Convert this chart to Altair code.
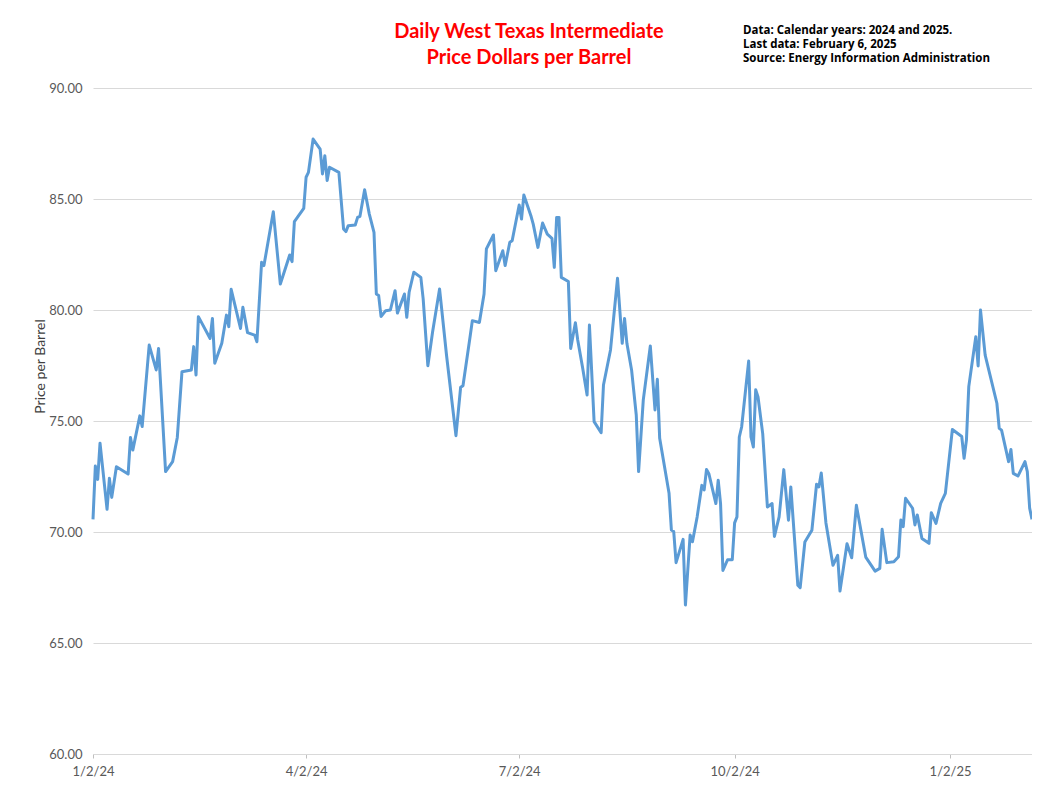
import altair as alt
import pandas as pd

# ---- data ----
dates = [
    "2024-01-02", "2024-01-03", "2024-01-04", "2024-01-05", "2024-01-08", "2024-01-09", "2024-01-10",
    "2024-01-12", "2024-01-17", "2024-01-18", "2024-01-19", "2024-01-22", "2024-01-23", "2024-01-26",
    "2024-01-29", "2024-01-30", "2024-02-02", "2024-02-05", "2024-02-07", "2024-02-09", "2024-02-13",
    "2024-02-14", "2024-02-15", "2024-02-16", "2024-02-21", "2024-02-22", "2024-02-23", "2024-02-26",
    "2024-02-28", "2024-02-29", "2024-03-01", "2024-03-05", "2024-03-06", "2024-03-08", "2024-03-11",
    "2024-03-12", "2024-03-14", "2024-03-15", "2024-03-19", "2024-03-22", "2024-03-26", "2024-03-27",
    "2024-03-28", "2024-04-01", "2024-04-02", "2024-04-03", "2024-04-05", "2024-04-08", "2024-04-09",
    "2024-04-10", "2024-04-11", "2024-04-12", "2024-04-16", "2024-04-18", "2024-04-19", "2024-04-20",
    "2024-04-23", "2024-04-24", "2024-04-25", "2024-04-27", "2024-04-29", "2024-05-01", "2024-05-02",
    "2024-05-03", "2024-05-04", "2024-05-06", "2024-05-08", "2024-05-10", "2024-05-11", "2024-05-14",
    "2024-05-15", "2024-05-16", "2024-05-18", "2024-05-21", "2024-05-22", "2024-05-24", "2024-05-26",
    "2024-05-29", "2024-06-01", "2024-06-05", "2024-06-07", "2024-06-08", "2024-06-11", "2024-06-12",
    "2024-06-15", "2024-06-17", "2024-06-18", "2024-06-21", "2024-06-22", "2024-06-25", "2024-06-26",
    "2024-06-28", "2024-06-29", "2024-07-02", "2024-07-03", "2024-07-04", "2024-07-07", "2024-07-08",
    "2024-07-10", "2024-07-12", "2024-07-14", "2024-07-16", "2024-07-17", "2024-07-18", "2024-07-19",
    "2024-07-20", "2024-07-23", "2024-07-24", "2024-07-26", "2024-07-27", "2024-07-29", "2024-07-31",
    "2024-08-01", "2024-08-03", "2024-08-06", "2024-08-07", "2024-08-10", "2024-08-13", "2024-08-15",
    "2024-08-16", "2024-08-17", "2024-08-19", "2024-08-21", "2024-08-22", "2024-08-24", "2024-08-27",
    "2024-08-29", "2024-08-30", "2024-08-31", "2024-09-04", "2024-09-05", "2024-09-06", "2024-09-07",
    "2024-09-10", "2024-09-11", "2024-09-13", "2024-09-14", "2024-09-16", "2024-09-18", "2024-09-19",
    "2024-09-20", "2024-09-21", "2024-09-24", "2024-09-25", "2024-09-26", "2024-09-27", "2024-09-29",
    "2024-10-01", "2024-10-02", "2024-10-03", "2024-10-04", "2024-10-05", "2024-10-08", "2024-10-09",
    "2024-10-10", "2024-10-11", "2024-10-12", "2024-10-14", "2024-10-16", "2024-10-18", "2024-10-19",
    "2024-10-21", "2024-10-23", "2024-10-25", "2024-10-26", "2024-10-29", "2024-10-30", "2024-11-01",
    "2024-11-04", "2024-11-06", "2024-11-07", "2024-11-08", "2024-11-10", "2024-11-13", "2024-11-15",
    "2024-11-16", "2024-11-19", "2024-11-21", "2024-11-23", "2024-11-27", "2024-11-28", "2024-12-01",
    "2024-12-03", "2024-12-04", "2024-12-06", "2024-12-09", "2024-12-11", "2024-12-12", "2024-12-13",
    "2024-12-14", "2024-12-17", "2024-12-18", "2024-12-19", "2024-12-21", "2024-12-24", "2024-12-25",
    "2024-12-27", "2024-12-29", "2024-12-31", "2025-01-03", "2025-01-07", "2025-01-08", "2025-01-09",
    "2025-01-10", "2025-01-13", "2025-01-14", "2025-01-15", "2025-01-17", "2025-01-22", "2025-01-23",
    "2025-01-24", "2025-01-27", "2025-01-28", "2025-01-29", "2025-01-31", "2025-02-03", "2025-02-04",
    "2025-02-05", "2025-02-06",
]

prices = [
    70.57, 72.97, 72.37, 74.00, 71.02, 72.42, 71.56,
    72.94, 72.61, 74.26, 73.69, 75.23, 74.75, 78.42,
    77.30, 78.27, 72.72, 73.17, 74.26, 77.22, 77.30,
    78.35, 77.07, 79.70, 78.72, 79.62, 77.60, 78.50,
    79.77, 79.25, 80.93, 79.17, 80.12, 78.98, 78.87,
    78.57, 82.15, 82.00, 84.43, 81.17, 82.48, 82.18,
    83.98, 84.58, 85.98, 86.20, 87.70, 87.25, 86.13,
    86.95, 85.83, 86.43, 86.20, 83.65, 83.53, 83.80,
    83.83, 84.17, 84.22, 85.42, 84.32, 83.50, 80.72,
    80.65, 79.71, 79.97, 80.00, 80.87, 79.86, 80.72,
    79.67, 80.80, 81.70, 81.47, 80.50, 77.49, 79.00,
    80.95, 77.94, 74.34, 76.52, 76.59, 78.77, 79.52,
    79.44, 80.72, 82.75, 83.38, 81.77, 82.67, 82.00,
    83.05, 83.12, 84.73, 84.10, 85.18, 84.25, 83.87,
    82.82, 83.92, 83.42, 83.23, 81.92, 84.17, 84.17,
    81.47, 81.28, 78.27, 79.43, 78.65, 77.45, 76.17,
    79.32, 74.97, 74.47, 76.62, 78.20, 81.43, 78.50,
    79.62, 78.50, 77.30, 75.27, 72.72, 75.95, 78.38,
    75.50, 76.88, 74.22, 71.74, 70.09, 70.02, 68.62,
    69.67, 66.71, 69.86, 69.56, 70.68, 72.10, 71.90,
    72.82, 72.63, 71.28, 72.33, 71.28, 68.27, 68.75,
    68.75, 70.41, 70.68, 74.28, 74.73, 77.70, 74.28,
    73.83, 76.41, 76.08, 74.43, 71.13, 71.28, 69.80,
    70.68, 72.81, 70.53, 72.03, 67.60, 67.49, 69.55,
    70.08, 72.15, 72.03, 72.66, 70.41, 68.50, 68.95,
    67.34, 69.47, 68.84, 71.20, 68.87, 68.71, 68.24,
    68.36, 70.12, 68.62, 68.66, 68.89, 70.54, 70.24,
    71.52, 71.07, 70.32, 70.77, 69.71, 69.49, 70.87,
    70.39, 71.29, 71.74, 74.62, 74.30, 73.32, 74.14,
    76.55, 78.80, 77.48, 80.00, 77.97, 75.80, 74.67,
    74.59, 73.17, 73.72, 72.64, 72.52, 73.17, 72.72,
    71.07, 70.57,
]

x_domain = ["2024-01-02", "2025-02-06"]
x_tick_dates = ["2024-01-02", "2024-04-02", "2024-07-02", "2024-10-02", "2025-01-02"]
y_ticks = [60, 65, 70, 75, 80, 85, 90]

title_lines = ["Daily West Texas Intermediate", "Price Dollars per Barrel"]
note_lines = [
    "Data: Calendar years: 2024 and 2025.",
    "Last data: February 6, 2025",
    "Source: Energy Information Administration",
]
y_title = "Price per Barrel"

# ---- build chart ----
df = pd.DataFrame({"date": pd.to_datetime(dates), "price": prices})


def to_dt(s):
    t = pd.Timestamp(s)
    return alt.DateTime(year=t.year, month=t.month, date=t.day)


FONT = "Lato"

line = alt.Chart(df).mark_line(color="#5B9BD5", strokeWidth=3, strokeJoin="round").encode(
    x=alt.X(
        "date:T",
        scale=alt.Scale(domain=[to_dt(d) for d in x_domain], nice=False),
        axis=alt.Axis(
            values=[to_dt(d) for d in x_tick_dates],
            format="%-m/%-d/%y",
            title=None,
            grid=False,
            domainColor="#d9d9d9",
            tickColor="#bfbfbf",
            tickSize=4,
            labelPadding=7,
            labelColor="#595959",
            labelFont=FONT,
            labelFontSize=13,
            labelOverlap=False,
            labelFlush=False,
        ),
    ),
    y=alt.Y(
        "price:Q",
        scale=alt.Scale(domain=[60, 90], nice=False, zero=False),
        axis=alt.Axis(
            values=y_ticks,
            format=".2f",
            title=y_title,
            titleFont=FONT,
            titleFontSize=14,
            titleFontWeight="normal",
            titleColor="#404040",
            titleX=-53,
            titleY=278,
            titleAlign="center",
            titleBaseline="middle",
            domain=False,
            ticks=False,
            labelPadding=11,
            labelColor="#595959",
            labelFont=FONT,
            labelFontSize=13,
            gridColor="#d9d9d9",
            gridWidth=1,
        ),
    ),
)

title_df = pd.DataFrame({"t": ["\n".join(title_lines)]})
title_text = alt.Chart(title_df).mark_text(
    font=FONT, fontSize=20, fontWeight="bold", color="#FF0000",
    align="center", baseline="middle", lineBreak="\n", lineHeight=26,
).encode(x=alt.value(436), y=alt.value(-56), text="t:N")

note_df = pd.DataFrame({"t": ["\n".join(note_lines)]})
note_text = alt.Chart(note_df).mark_text(
    font="Open Sans", fontSize=11.5, fontWeight="bold", color="#000000",
    align="left", baseline="middle", lineBreak="\n", lineHeight=14,
).encode(x=alt.value(650), y=alt.value(-57), text="t:N")

chart = alt.layer(line, title_text, note_text).properties(
    width=939,
    height=666,
    autosize=alt.AutoSizeParams(type="none"),
    padding={"left": 85, "top": 80, "right": 0, "bottom": 24},
    background="white",
).configure_view(stroke=None)

chart.save("out.html", embed_options={"renderer": "svg", "actions": False})
